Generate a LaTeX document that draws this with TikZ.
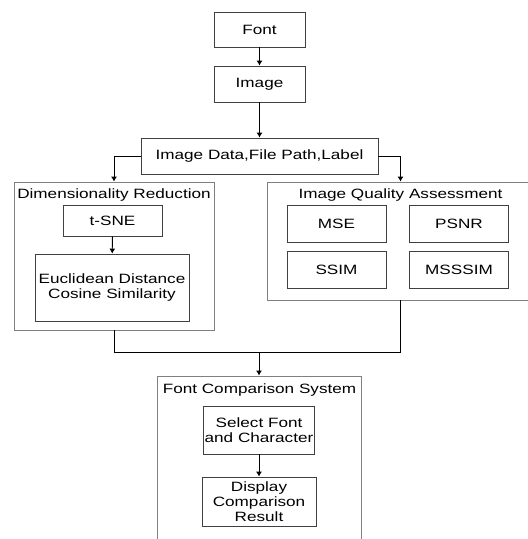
\documentclass[tikz,border=0pt]{standalone}
\usepackage{fontspec}
\setmainfont{Liberation Sans}[FakeStretch=1.27]
\usetikzlibrary{arrows.meta}

\tikzset{
  box/.style={draw=black!75, line width=0.9pt, align=center, inner sep=1pt,
    font=\fontsize{13.5}{15}\selectfont},
  group/.style={draw=black!50, line width=0.9pt, inner sep=0pt},
  grouptitle/.style={anchor=base, inner sep=0pt, font=\fontsize{13.5}{15}\selectfont},
}

\begin{document}
\begin{tikzpicture}[x=1pt, y=-1pt, line width=0.9pt, >={Latex[length=5pt,width=6pt]}]
  \clip (0,0) rectangle (528,539);

  % top of the chain
  \node[box, minimum width=91pt, minimum height=35pt] (font) at (259.5,29.5) {Font};
  \node[box, minimum width=91pt, minimum height=36pt] (image) at (259.5,84) {Image};
  \node[box, minimum width=237pt, minimum height=36pt] (data) at (259.5,156) {Image Data,File Path,Label};

  % dimensionality reduction
  \node[group, minimum width=200pt, minimum height=148pt] (dim) at (114,256) {};
  \node[grouptitle] (dimtitle) at (114,198.5) {Dimensionality Reduction};
  \node[box, minimum width=99pt, minimum height=31pt] (tsne) at (112.5,220.5) {t-SNE};
  \node[box, minimum width=154pt, minimum height=67pt] (euclid) at (112,287.5) {Euclidean Distance\\Cosine Similarity};

  % image quality assessment
  \node[group, minimum width=273pt, minimum height=118pt] (iqa) at (403.5,241) {};
  \node[grouptitle] (iqatitle) at (400.5,198.5) {Image Quality Assessment};
  \node[box, minimum width=99pt, minimum height=37pt] (mse) at (336.5,223.5) {MSE};
  \node[box, minimum width=99pt, minimum height=37pt] (psnr) at (459,223.5) {PSNR};
  \node[box, minimum width=99pt, minimum height=36.5pt] (ssim) at (336.5,270) {SSIM};
  \node[box, minimum width=99pt, minimum height=36.5pt] (msssim) at (459,270) {MSSSIM};

  % font comparison system
  \node[group, minimum width=204pt, minimum height=184pt] (fcs) at (259,468) {};
  \node[grouptitle] (fcstitle) at (259.5,393.3) {Font Comparison System};
  \node[box, minimum width=110pt, minimum height=48pt] (select) at (259,430) {Select Font\\and Character};
  \node[box, minimum width=114pt, minimum height=49pt] (display) at (259,501.5) {Display\\Comparison\\Result};

  \coordinate (join) at (259,352);

  \draw[->] (font) -- (image);
  \draw[->] (image) -- (data);
  \draw[->] (data.west) -| (dim.north);
  \draw[->] (data.east) -| (iqatitle |- iqa.north);
  \draw[->] (tsne) -- (euclid);
  \draw (dim.south) |- (join);
  \draw (iqatitle |- iqa.south) |- (join);
  \draw[->] (join) -- (fcs.north);
  \draw[->] (select) -- (display);
\end{tikzpicture}
\end{document}
